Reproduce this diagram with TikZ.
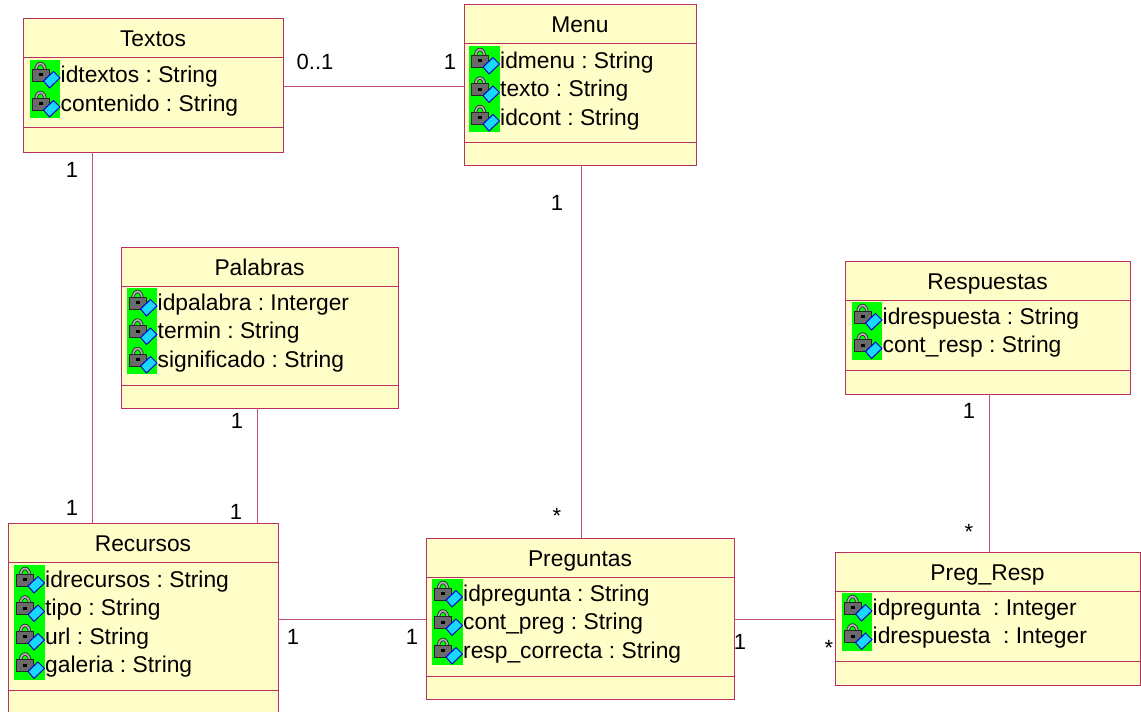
\documentclass[tikz,border=0pt]{standalone}
\usepackage{fontspec}
\setmainfont{Liberation Sans}
\frenchspacing
\definecolor{classfill}{HTML}{FFFDC8}
\definecolor{classline}{HTML}{B8305F}
\definecolor{lockgray}{HTML}{6A6A6A}
\definecolor{keyblue}{HTML}{18D8FF}
\tikzset{
  classbox/.style={draw=classline, fill=classfill, line width=1pt, inner sep=0pt, outer sep=0pt},
  classdiv/.style={draw=classline, line width=0.9pt},
  assoc/.style={draw=classline!85, line width=0.9pt},
  classtitle/.style={font=\fontsize{22.8}{26}\selectfont, anchor=base, inner sep=0pt},
  attrtext/.style={font=\fontsize{22.8}{26}\selectfont, anchor=base west, inner sep=0pt},
  multlabel/.style={font=\fontsize{22}{24}\selectfont, inner sep=0pt}
}
\newcommand{\attr}[4]{
  \fill[green] (#2,#3) rectangle ++(30.5,29);
  \draw[black!80, line width=3.4pt] (#2+6.5,#3+10) arc[start angle=180, end angle=0, x radius=4.5pt, y radius=6.5pt];
  \draw[gray!60, line width=1.6pt] (#2+6.5,#3+10) arc[start angle=180, end angle=0, x radius=4.5pt, y radius=6.5pt];
  \fill[lockgray, draw=black!85, line width=1pt] (#2+2.5,#3+9) rectangle ++(17,12);
  \fill[black] (#2+9,#3+13) rectangle ++(4,3);
  \fill[keyblue, draw=blue!80!black, line width=1pt] (#2+14,#3+21) -- ++(10,-9.5) -- ++(6.5,6.5) -- ++(-10.5,10) -- cycle;
  \node[attrtext] (#1) at (#2+31,#3+22) {#4};
}
\begin{document}
\begin{tikzpicture}[x=1pt,y=-1pt]
\useasboundingbox (0,0) rectangle (1141,712);
\clip (0,0) rectangle (1141,712);
\node[classbox, minimum width=260pt, minimum height=134pt] (textos) at (153,85) {};
\node[classbox, minimum width=232pt, minimum height=161pt] (menu) at (580,84.5) {};
\node[classbox, minimum width=277pt, minimum height=161pt] (palabras) at (259.5,327.5) {};
\node[classbox, minimum width=285pt, minimum height=133pt] (respuestas) at (987.5,327.5) {};
\node[classbox, minimum width=270pt, minimum height=200pt] (recursos) at (143,623) {};
\node[classbox, minimum width=308pt, minimum height=161pt] (preguntas) at (580,618.5) {};
\node[classbox, minimum width=305pt, minimum height=133pt] (pregresp) at (987.5,618.5) {};
\draw[classdiv] (textos.west |- 0,57) -- (textos.east |- 0,57);
\draw[classdiv] (textos.west |- 0,127) -- (textos.east |- 0,127);
\draw[classdiv] (menu.west |- 0,43) -- (menu.east |- 0,43);
\draw[classdiv] (menu.west |- 0,142) -- (menu.east |- 0,142);
\draw[classdiv] (palabras.west |- 0,286) -- (palabras.east |- 0,286);
\draw[classdiv] (palabras.west |- 0,385) -- (palabras.east |- 0,385);
\draw[classdiv] (respuestas.west |- 0,300) -- (respuestas.east |- 0,300);
\draw[classdiv] (respuestas.west |- 0,370) -- (respuestas.east |- 0,370);
\draw[classdiv] (recursos.west |- 0,562) -- (recursos.east |- 0,562);
\draw[classdiv] (recursos.west |- 0,690) -- (recursos.east |- 0,690);
\draw[classdiv] (preguntas.west |- 0,577) -- (preguntas.east |- 0,577);
\draw[classdiv] (preguntas.west |- 0,676) -- (preguntas.east |- 0,676);
\draw[classdiv] (pregresp.west |- 0,591) -- (pregresp.east |- 0,591);
\draw[classdiv] (pregresp.west |- 0,661) -- (pregresp.east |- 0,661);
\node[classtitle] (textostitle) at (153,46) {Textos};
\node[classtitle] (menutitle) at (580,32) {Menu};
\node[classtitle] (palabrastitle) at (259.5,275) {Palabras};
\node[classtitle] (respuestastitle) at (987.5,289) {Respuestas};
\node[classtitle] (recursostitle) at (143,551) {Recursos};
\node[classtitle] (preguntastitle) at (580,566) {Preguntas};
\node[classtitle] (pregresptitle) at (987.5,580) {Preg\_Resp};
\attr{idtextos}{29.5}{60}{idtextos : String}
\attr{contenido}{29.5}{89}{contenido : String}
\attr{idmenu}{469}{46}{idmenu : String}
\attr{texto}{469}{74.5}{texto : String}
\attr{idcont}{469}{103}{idcont : String}
\attr{idpalabra}{126.5}{288}{idpalabra : Interger}
\attr{termin}{126.5}{316.5}{termin : String}
\attr{significado}{126.5}{345}{significado : String}
\attr{idrespuesta}{851.5}{302}{idrespuesta : String}
\attr{contresp}{851.5}{330.5}{cont\_resp : String}
\attr{idrecursos}{14}{565}{idrecursos : String}
\attr{tipo}{14}{593.5}{tipo : String}
\attr{url}{14}{622}{url : String}
\attr{galeria}{14}{650.5}{galeria : String}
\attr{idpregunta}{432}{579}{idpregunta : String}
\attr{contpreg}{432}{607.5}{cont\_preg : String}
\attr{respcorrecta}{432}{636}{resp\_correcta : String}
\attr{idpreg}{841.5}{593}{idpregunta\ \ : Integer}
\attr{idresp}{841.5}{621.5}{idrespuesta\ \ : Integer}
\draw[assoc] ([yshift=-1pt]textos.east) -- ([yshift=-1.5pt]menu.west);
\draw[assoc] ([xshift=-61pt]textos.south) -- ([xshift=-51pt]recursos.north);
\draw[assoc] ([xshift=-2.5pt]palabras.south) -- ([xshift=114pt]recursos.north);
\draw[assoc] ([xshift=1pt]menu.south) -- ([xshift=1pt]preguntas.north);
\draw[assoc] ([xshift=1.5pt]respuestas.south) -- ([xshift=1.5pt]pregresp.north);
\draw[assoc] ([yshift=4pt]recursos.east) -- ([yshift=-0.5pt]preguntas.west);
\draw[assoc] ([yshift=-0.5pt]preguntas.east) -- ([yshift=-0.5pt]pregresp.west);
\node[multlabel] (m01) at (315,62) {0..1};
\node[multlabel] (m02) at (450,62) {1};
\node[multlabel] (m03) at (72,170) {1};
\node[multlabel] (m04) at (72,508) {1};
\node[multlabel] (m05) at (237,421) {1};
\node[multlabel] (m06) at (236,512) {1};
\node[multlabel] (m07) at (557,203) {1};
\node[multlabel] (m08) at (557,516) {*};
\node[multlabel] (m09) at (969,411) {1};
\node[multlabel] (m10) at (969,532) {*};
\node[multlabel] (m11) at (293,637) {1};
\node[multlabel] (m12) at (412,637) {1};
\node[multlabel] (m13) at (740,642) {1};
\node[multlabel] (m14) at (829,648) {*};
\end{tikzpicture}
\end{document}
